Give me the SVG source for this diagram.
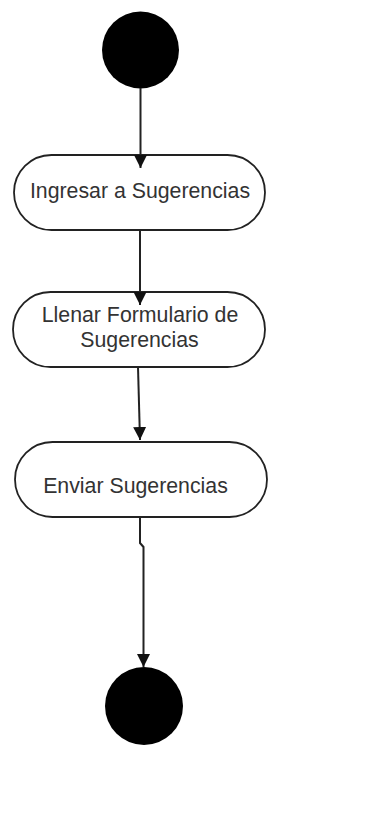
<svg xmlns="http://www.w3.org/2000/svg" width="369" height="813" viewBox="0 0 369 813">
<defs>
<style>
.node{fill:#fff;stroke:#222;stroke-width:1.8}
.lbl{font-family:"Liberation Sans",Arial,sans-serif;font-size:21.3px;fill:#333;text-anchor:middle}
.conn{fill:none;stroke:#222;stroke-width:2}
.dot{fill:#000}
</style>
<marker id="arr" markerUnits="userSpaceOnUse" markerWidth="14" markerHeight="14" viewBox="0 0 14 14" refX="13" refY="7" orient="auto">
<path d="M0,0.5 L13,7 L0,13.5 Z" fill="#111"/>
</marker>
</defs>
<rect width="369" height="813" fill="#fff"/>
<g id="start"><circle class="dot" cx="140.5" cy="50" r="38.5"/></g>
<g id="n1"><rect class="node" x="14" y="155" width="251" height="75" rx="37.5"/><text class="lbl" x="140" y="197.7">Ingresar a Sugerencias</text></g>
<g id="n2"><rect class="node" x="13" y="292" width="252" height="75" rx="37.5"/><text class="lbl" x="140" y="321.7">Llenar Formulario de</text><text class="lbl" x="139.5" y="346.7">Sugerencias</text></g>
<g id="n3"><rect class="node" x="15" y="442" width="252" height="75" rx="37.5"/><text class="lbl" x="135.5" y="493.3">Enviar Sugerencias</text></g>
<g id="end"><circle class="dot" cx="144" cy="706" r="39"/></g>
<g id="connectors">
<path class="conn" d="M140.5,88 L140.5,168" marker-end="url(#arr)"/>
<path class="conn" d="M140,230 L140,305" marker-end="url(#arr)"/>
<path class="conn" d="M138,367 L140,440" marker-end="url(#arr)"/>
<path class="conn" d="M140,517 L140,543 L143.5,547 L143.5,667" marker-end="url(#arr)"/>
</g>
</svg>
